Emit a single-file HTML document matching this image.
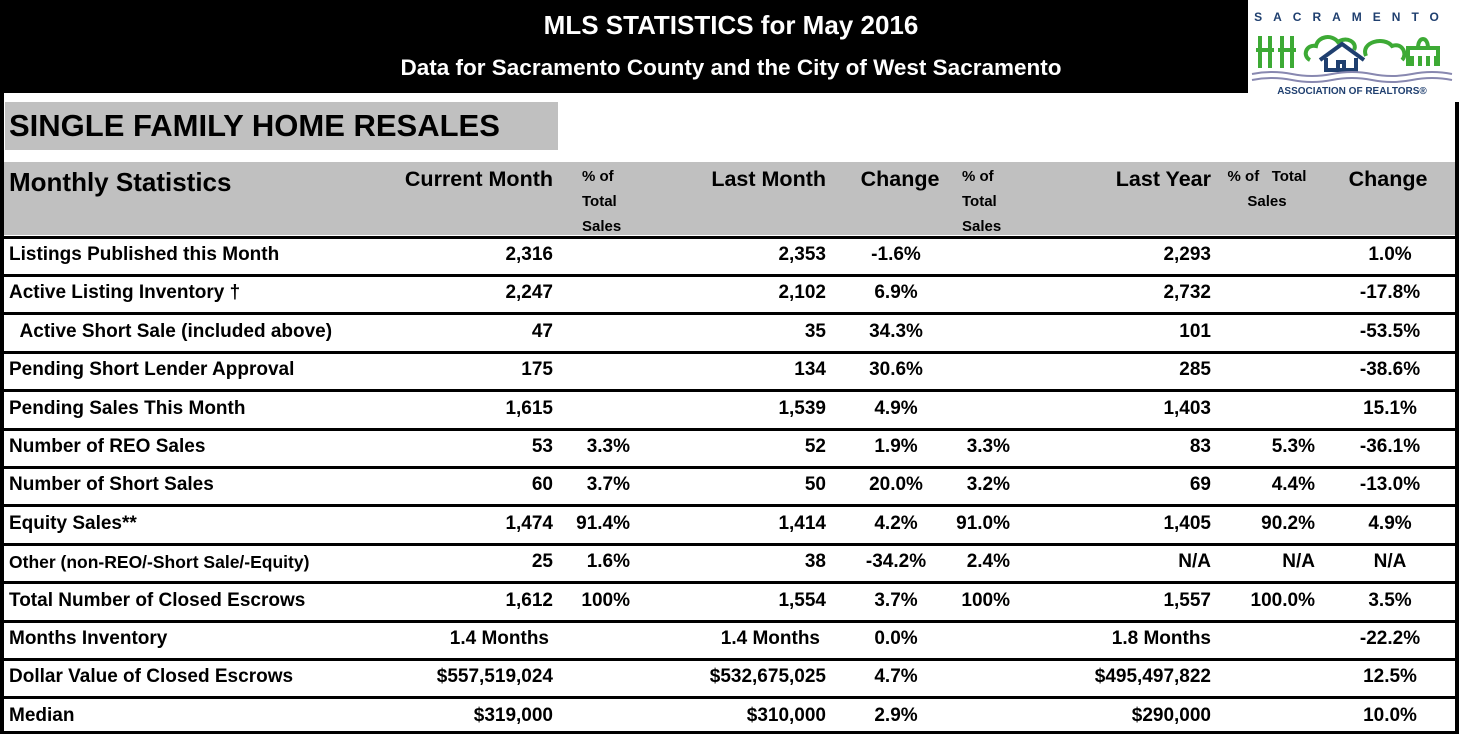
<!DOCTYPE html>
<html><head><meta charset="utf-8">
<style>
body{margin:0;width:1459px;height:734px;overflow:hidden;background:#fff;font-family:"Liberation Sans",sans-serif;font-weight:bold;position:relative}
.a{position:absolute;white-space:nowrap;color:#000}
.r{transform:translateX(-100%)}
.c{transform:translateX(-50%)}
.line{position:absolute;background:#000}
</style></head><body>
<div class="line" style="left:0;top:0;width:1248px;height:93px"></div>
<div class="a c" style="left:731px;top:10px;color:#fff;font-size:26px">MLS STATISTICS for May 2016</div>
<div class="a c" style="left:731px;top:55px;color:#fff;font-size:22.5px">Data for Sacramento County and the City of West Sacramento</div>
<svg class="a" style="left:1248px;top:0" width="211" height="102">
<text x="104" y="21" text-anchor="middle" font-size="12" fill="#1f3f6f" letter-spacing="11" font-family="Liberation Sans" font-weight="bold">SACRAMENTO</text>
<g stroke="#3daa35" stroke-width="4" fill="none">
<path d="M12 36v32M22 36v32M8 50h18M34 36v32M44 36v32M30 50h18"/>
<path d="M62 60c-8-4-4-16 6-14c2-10 16-12 22-4c8-6 20 0 16 8"/>
<path d="M118 56c-6-14 18-20 26-10c10-4 16 8 10 14"/>
<path d="M160 66v-18h30v18M170 48c0-12 10-12 10 0M164 56v10M172 56v10M180 56v10M188 56v10"/>
</g>
<path d="M72 60l22-16 22 16M78 58v12h30v-12M90 70v-8h6v8" stroke="#1f3f6f" stroke-width="4" fill="none"/>
<g stroke="#8888b0" stroke-width="2" fill="none"><path d="M4 74q20-4 40 0t40 0t40 0t40 0t40 0"/><path d="M4 80q20-4 40 0t40 0t40 0t40 0t40 0"/></g>
<text x="104" y="94" text-anchor="middle" font-size="10" fill="#1f3f6f" font-family="Liberation Sans" font-weight="bold">ASSOCIATION OF REALTORS®</text>
</svg>
<div class="line" style="left:0;top:93px;width:4px;height:641px"></div>
<div class="line" style="left:1455px;top:102px;width:4px;height:632px"></div>
<div class="a" style="left:5px;top:102px;width:553px;height:48px;background:#c0c0c0"><span style="position:absolute;left:4px;top:6px;font-size:31px">SINGLE FAMILY HOME RESALES</span></div>
<div class="a" style="left:4px;top:162px;width:1451px;height:73px;background:#c0c0c0"></div>
<div class="a" style="left:9px;top:167px;font-size:26px">Monthly Statistics</div>
<div class="a r" style="left:553px;top:167px;font-size:21.5px">Current Month</div>
<div class="a" style="left:582px;top:164px;font-size:15px;line-height:25px">% of<br>Total<br>Sales</div>
<div class="a r" style="left:826px;top:167px;font-size:21.5px">Last Month</div>
<div class="a c" style="left:900px;top:167px;font-size:21.5px">Change</div>
<div class="a" style="left:962px;top:164px;font-size:15px;line-height:25px">% of<br>Total<br>Sales</div>
<div class="a r" style="left:1211px;top:167px;font-size:21.5px">Last Year</div>
<div class="a c" style="left:1267px;top:164px;font-size:15px;line-height:25px;text-align:center">% of&nbsp;&nbsp; Total<br>Sales</div>
<div class="a c" style="left:1388px;top:167px;font-size:21.5px">Change</div>
<div id="rows"></div>
<script>
const labels=["Listings Published this Month","Active Listing Inventory †","\u00a0\u00a0Active Short Sale (included above)","Pending Short Lender Approval","Pending Sales This Month","Number of REO Sales","Number of Short Sales","Equity Sales**","Other (non-REO/-Short Sale/-Equity)","Total Number of Closed Escrows","Months Inventory","Dollar Value of Closed Escrows","Median"];
const currentMonth=["2,316","2,247","47","175","1,615","53","60","1,474","25","1,612","1.4 Months","$557,519,024","$319,000"];
const currentPct=["","","","","","3.3%","3.7%","91.4%","1.6%","100%","","",""];
const lastMonth=["2,353","2,102","35","134","1,539","52","50","1,414","38","1,554","1.4 Months","$532,675,025","$310,000"];
const changeMonth=["-1.6%","6.9%","34.3%","30.6%","4.9%","1.9%","20.0%","4.2%","-34.2%","3.7%","0.0%","4.7%","2.9%"];
const lastMonthPct=["","","","","","3.3%","3.2%","91.0%","2.4%","100%","","",""];
const lastYear=["2,293","2,732","101","285","1,403","83","69","1,405","N/A","1,557","1.8 Months","$495,497,822","$290,000"];
const lastYearPct=["","","","","","5.3%","4.4%","90.2%","N/A","100.0%","","",""];
const changeYear=["1.0%","-17.8%","-53.5%","-38.6%","15.1%","-36.1%","-13.0%","4.9%","N/A","3.5%","-22.2%","12.5%","10.0%"];
const R=document.getElementById('rows');
function cell(txt,x,cls,y,fs,name){const d=document.createElement('div');d.className='a '+cls;d.style.left=x+'px';d.style.top=y+'px';d.style.fontSize=fs+'px';d.textContent=txt;


R.appendChild(d);}
labels.forEach((l,i)=>{
 const top=237+i*38.4;
 const y=top+7;
 const ln=document.createElement('div');ln.className='line';ln.style.left='4px';ln.style.top=(top-1.5)+'px';ln.style.width='1451px';ln.style.height='3px';
 
 
 R.appendChild(ln);
 const fs=(i==8)?17.5:19;
 cell(l,9,'',y+(i==8?1:0),fs,'row-label');
 const mi=(i==10);
 cell(currentMonth[i],mi?549:553,'r',y,19,'current-month-value');
 cell(currentPct[i],630,'r',y,19,'current-pct-value');
 cell(lastMonth[i],mi?820:826,'r',y,19,'last-month-value');
 cell(changeMonth[i],896,'c',y,19,'month-change-value');
 cell(lastMonthPct[i],1010,'r',y,19,'last-month-pct-value');
 cell(lastYear[i],1211,'r',y,19,'last-year-value');
 cell(lastYearPct[i],1315,'r',y,19,'last-year-pct-value');
 cell(changeYear[i],1390,'c',y,19,'year-change-value');
});
const bl=document.createElement('div');bl.className='line';bl.style.left='0';bl.style.top='731px';bl.style.width='1459px';bl.style.height='3px';


R.appendChild(bl);
</script>
</body></html>
